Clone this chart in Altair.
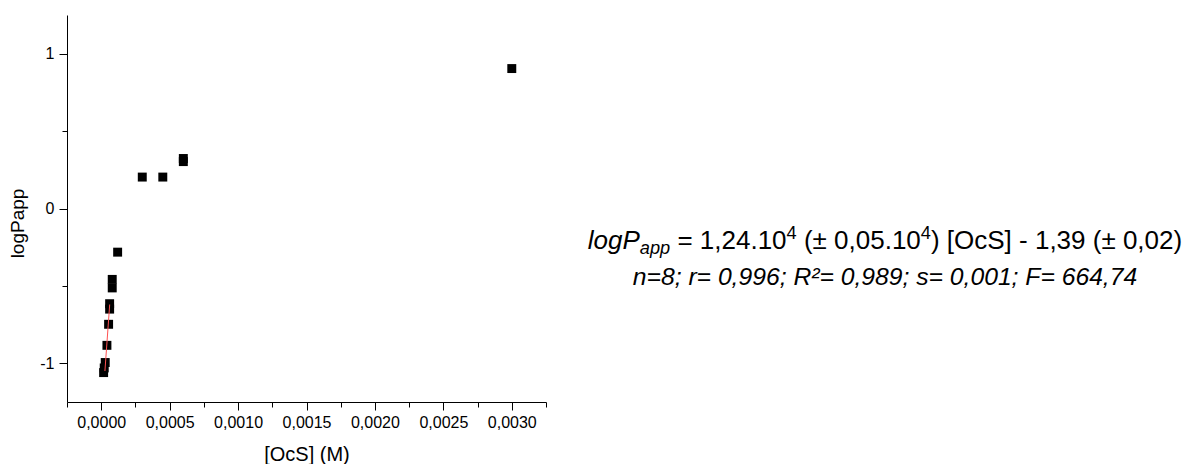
import altair as alt
import pandas as pd

# ---------------- data ----------------
ocs = [0.0000176, 0.000022, 0.0000293, 0.0000417, 0.000054, 0.0000615, 0.0000615,
       0.0000805, 0.0000805, 0.00012, 0.0003, 0.00045, 0.0006, 0.0006, 0.003]
logp = [-1.06, -1.03, -0.995, -0.884, -0.748, -0.615, -0.65,
        -0.458, -0.513, -0.282, 0.203, 0.203, 0.303, 0.323, 0.904]

fit_x = [0.000027, 0.000062]
fit_y = [-1.05, -0.62]

x_major = [0.0, 0.0005, 0.0010, 0.0015, 0.0020, 0.0025, 0.0030]
x_minor = [-0.00025, 0.00025, 0.00075, 0.00125, 0.00175, 0.00225, 0.00275, 0.00325]
y_major = [-1, 0, 1]
y_minor = [-0.5, 0.5]

# (text, style, size factor, baseline shift factor, leading spaces)
eq_parts = [
    ("logP", "italic", 1.0, 0.0, 0),
    ("app", "italic", 0.7, 0.2, 0),
    ("= 1,24.10", "normal", 1.0, 0.0, 1),
    ("4", "normal", 0.7, -0.38, 0),
    ("(± 0,05.10", "normal", 1.0, 0.0, 1),
    ("4", "normal", 0.7, -0.38, 0),
    (") [OcS] - 1,39 (± 0,02)", "normal", 1.0, 0.0, 0),
]
stats_line = "n=8; r= 0,996; R²= 0,989; s= 0,001; F= 664,74"

# ---------------- layout ----------------
W, H = 479, 387
FONT = "Liberation Sans"
EQ_SIZE = 26
EQ_CENTER_X = 885 - 67
EQ_BASE1 = 249 - 15
EQ_BASE2 = 285 - 15

ARIAL = {' ': 278, '(': 333, ')': 333, ',': 278, '-': 333, '.': 278, ';': 278, '=': 584,
         '[': 278, ']': 278, '±': 549, '²': 333, 'F': 611, 'O': 778, 'P': 667, 'R': 722,
         'S': 667, 'a': 556, 'c': 500, 'g': 556, 'l': 222, 'n': 556, 'o': 556, 'p': 556,
         'r': 333, 's': 500}


def text_width(s, size):
    return sum(ARIAL.get(ch, 556) for ch in s) / 1000.0 * size


df = pd.DataFrame({"ocs": ocs, "logp": logp})
fit_df = pd.DataFrame({"ocs": fit_x, "logp": fit_y})

xscale = alt.Scale(domain=[-0.00025, 0.00325], nice=False, zero=False)
yscale = alt.Scale(domain=[-1.25, 1.25], nice=False, zero=False)

x_axis = alt.Axis(values=x_major, labelExpr="replace(format(datum.value, '.4f'), '.', ',')",
                  tickSize=8, tickColor="black", domainColor="black", labelColor="black",
                  labelFont=FONT, labelFontSize=16, labelPadding=4, grid=False,
                  title="[OcS] (M)", titleFont=FONT, titleFontSize=20, titleFontWeight="normal",
                  titleColor="black", titleY=42, titleBaseline="top")
y_axis = alt.Axis(values=y_major,
                  labelExpr="datum.value < 0 ? '-' + abs(datum.value) : '' + datum.value",
                  tickSize=8, tickColor="black",
                  domainColor="black", labelColor="black", labelFont=FONT, labelFontSize=16,
                  labelPadding=5, grid=False, title="logPapp", titleFont=FONT, titleFontSize=19,
                  titleFontWeight="normal", titleColor="black", titleX=-40, titleY=208,
                  titleBaseline="bottom", titleAngle=270)

points = alt.Chart(df).mark_square(size=80, filled=True, color="black", opacity=1).encode(
    x=alt.X("ocs:Q", scale=xscale, axis=x_axis),
    y=alt.Y("logp:Q", scale=yscale, axis=y_axis),
)

minor_x = alt.Axis(values=x_minor, labels=False, domain=False, tickSize=5, tickColor="black",
                   grid=False, title=None, orient="bottom")
minor_y = alt.Axis(values=y_minor, labels=False, domain=False, tickSize=5, tickColor="black",
                   grid=False, title=None, orient="left")

fit = alt.Chart(fit_df).mark_line(color="#ff5050", strokeWidth=1).encode(
    x=alt.X("ocs:Q", scale=xscale, axis=minor_x),
    y=alt.Y("logp:Q", scale=yscale, axis=minor_y),
)

one = pd.DataFrame({"k": [0]})
texts = []
space_w = text_width(" ", EQ_SIZE)
total = sum(text_width(t, EQ_SIZE * f) + lead * space_w for t, _, f, _, lead in eq_parts)
cx = EQ_CENTER_X - total / 2
for t, style, f, shift, lead in eq_parts:
    cx += lead * space_w
    texts.append(
        alt.Chart(one).mark_text(align="left", baseline="alphabetic", font=FONT,
                                 fontSize=EQ_SIZE * f, fontStyle=style, color="black").encode(
            x=alt.value(cx), y=alt.value(EQ_BASE1 + shift * EQ_SIZE), text=alt.value(t))
    )
    cx += text_width(t, EQ_SIZE * f)

texts.append(
    alt.Chart(one).mark_text(align="center", baseline="alphabetic", font=FONT,
                             fontSize=24.7, fontStyle="italic", color="black").encode(
        x=alt.value(EQ_CENTER_X), y=alt.value(EQ_BASE2), text=alt.value(stats_line))
)

chart = alt.layer(points, fit, *texts).resolve_axis(x="independent", y="independent").properties(
    width=W, height=H,
    background="white",
    autosize=alt.AutoSizeParams(type="none"),
    padding={"left": 59, "top": 7, "right": 646, "bottom": 62},
).configure_view(stroke=None)

chart.save("out.html", embed_options={"renderer": "svg", "actions": False})
